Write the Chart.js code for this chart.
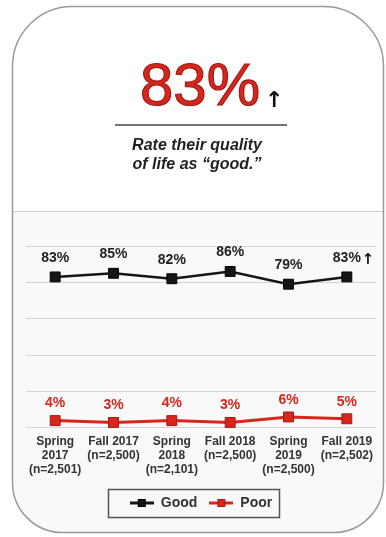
<!DOCTYPE html>
<html>
<head>
<meta charset="utf-8">
<script src="https://cdn.jsdelivr.net/npm/chart.js@4.4.0/dist/chart.umd.min.js"></script>
<style>
  html, body { margin: 0; padding: 0; background: #fff; }
  #wrap { width: 386px; height: 537px; position: relative; }
</style>
</head>
<body>
<div id="wrap"><canvas id="chart"></canvas></div>
<script>
// ── Data ─────────────────────────────────────────────────────────────────────
const waves = [
  ['Spring', '2017', '(n=2,501)'],
  ['Fall 2017', '(n=2,500)'],
  ['Spring', '2018', '(n=2,101)'],
  ['Fall 2018', '(n=2,500)'],
  ['Spring', '2019', '(n=2,500)'],
  ['Fall 2019', '(n=2,502)'],
];
const good = [83, 85, 82, 86, 79, 83];
const poor = [4, 3, 4, 3, 6, 5];
const seriesNames = ['Good', 'Poor'];
const yMin = 0, yMax = 100, yStep = 20;
const headline = '83%';
const subtitle = ['Rate their quality', 'of life as \u201cgood.\u201d'];

// ── Style ────────────────────────────────────────────────────────────────────
const FONT = '"Liberation Sans", Arial, sans-serif';
const BLACK = '#151515';
const RED = '#d8261c';
const RED_DARK = '#9e1a14';

// legend marker: short line with a square on it
function legendMark(color, edge) {
  const c = document.createElement('canvas');
  c.width = 24; c.height = 12;
  const g = c.getContext('2d');
  g.strokeStyle = color; g.lineWidth = 3;
  g.beginPath(); g.moveTo(0, 6); g.lineTo(24, 6); g.stroke();
  g.fillStyle = color; g.fillRect(8, 2, 8, 8);
  g.strokeStyle = edge; g.lineWidth = 1; g.strokeRect(8.5, 2.5, 7, 7);
  return c;
}
const marks = [legendMark(BLACK, '#000'), legendMark(RED, RED_DARK)];

// ── Card, headline, subtitle ─────────────────────────────────────────────────
function cardPath(ctx) {
  const x = 12.5, y = 6.5, w = 371, h = 526;
  ctx.beginPath();
  ctx.roundRect(x, y, w, h, [60, 60, 50, 50]);
}

function arrow(ctx, x, y, size) {
  ctx.font = 'bold ' + size + 'px "DejaVu Sans", sans-serif';
  ctx.fillStyle = '#111';
  ctx.fillText('\u2191', x, y);
}

const cardPlugin = {
  id: 'card',
  beforeDraw(chart) {
    const ctx = chart.ctx;
    ctx.save();
    ctx.fillStyle = '#fff';
    ctx.fillRect(0, 0, chart.width, chart.height);

    // light panel behind the plot
    cardPath(ctx);
    ctx.save();
    ctx.clip();
    ctx.fillStyle = '#f9f9f9';
    ctx.fillRect(0, 211, chart.width, chart.height);
    ctx.restore();

    ctx.strokeStyle = '#cfcfcf';
    ctx.lineWidth = 1;
    ctx.beginPath(); ctx.moveTo(13, 211.5); ctx.lineTo(383, 211.5); ctx.stroke();

    cardPath(ctx);
    ctx.strokeStyle = '#9a9a9a';
    ctx.lineWidth = 1.5;
    ctx.stroke();

    // headline
    ctx.font = '60px ' + FONT;
    ctx.textAlign = 'left';
    ctx.textBaseline = 'alphabetic';
    ctx.fillStyle = RED;
    ctx.fillText(headline, 140, 105);
    ctx.strokeStyle = RED_DARK;
    ctx.lineWidth = 1.2;
    ctx.strokeText(headline, 140, 105);
    const hw = ctx.measureText(headline).width;
    arrow(ctx, 140 + hw + 5, 107, 22);

    // rule
    ctx.strokeStyle = '#444';
    ctx.lineWidth = 1.5;
    ctx.beginPath(); ctx.moveTo(115, 125); ctx.lineTo(287, 125); ctx.stroke();

    // subtitle
    ctx.font = 'italic bold 16px ' + FONT;
    ctx.fillStyle = '#222';
    ctx.textAlign = 'center';
    ctx.fillText(subtitle[0], 197, 150);
    ctx.fillText(subtitle[1], 197, 169);
    ctx.restore();
  },
  afterDraw(chart) {
    // frame around the legend
    const hb = chart.legend.legendHitBoxes;
    if (!hb || !hb.length) return;
    const cy = hb[0].top + hb[0].height / 2;
    const ctx = chart.ctx;
    ctx.save();
    ctx.strokeStyle = '#555';
    ctx.lineWidth = 1.5;
    ctx.strokeRect(108.5, Math.round(cy - 14) + 0.5, 171, 28);
    ctx.restore();
  }
};

// ── Value labels above points ────────────────────────────────────────────────
const labelPlugin = {
  id: 'valueLabels',
  afterDatasetsDraw(chart) {
    const ctx = chart.ctx;
    ctx.save();
    ctx.textAlign = 'center';
    ctx.textBaseline = 'middle';
    chart.data.datasets.forEach((ds, di) => {
      const meta = chart.getDatasetMeta(di);
      meta.data.forEach((pt, i) => {
        const txt = ds.data[i] + '%';
        const y = pt.y - (di === 0 ? 19 : 17);
        ctx.font = 'bold 14px ' + FONT;
        ctx.fillStyle = di === 0 ? '#222' : RED;
        ctx.fillText(txt, pt.x, y);
        if (di === 0 && i === ds.data.length - 1) {
          const w = ctx.measureText(txt).width;
          ctx.save();
          ctx.textAlign = 'left';
          arrow(ctx, pt.x + w / 2 + 1, y + 2, 15);
          ctx.restore();
        }
      });
    });
    ctx.restore();
  }
};

// ── Chart ────────────────────────────────────────────────────────────────────
new Chart(document.getElementById('chart'), {
  type: 'line',
  data: {
    labels: waves,
    datasets: [
      {
        label: seriesNames[0],
        data: good,
        borderColor: BLACK,
        backgroundColor: BLACK,
        borderWidth: 2.5,
        pointStyle: 'rect',
        pointRadius: 7,
        pointBorderColor: '#000',
        pointBorderWidth: 1,
        tension: 0,
      },
      {
        label: seriesNames[1],
        data: poor,
        borderColor: RED,
        backgroundColor: RED,
        borderWidth: 3,
        pointStyle: 'rect',
        pointRadius: 7,
        pointBorderColor: RED_DARK,
        pointBorderWidth: 1,
        tension: 0,
      }
    ]
  },
  options: {
    responsive: true,
    maintainAspectRatio: false,
    animation: false,
    layout: { padding: { top: 246, left: 26, right: 10, bottom: 17 } },
    scales: {
      x: {
        offset: true,
        grid: { display: false, drawTicks: false },
        border: { display: false },
        ticks: {
          color: '#333',
          font: { family: FONT, size: 12, weight: 'bold', lineHeight: 1.17 },
          padding: 7,
          maxRotation: 0,
          autoSkip: false,
        }
      },
      y: {
        min: yMin,
        max: yMax,
        grid: { color: '#d2d2d2', lineWidth: 1, drawTicks: false },
        border: { display: false },
        ticks: { display: false, stepSize: yStep },
      }
    },
    plugins: {
      legend: {
        position: 'bottom',
        labels: {
          usePointStyle: true,
          pointStyleWidth: 24,
          color: '#333',
          font: { family: FONT, size: 14, weight: 'bold' },
          padding: 12,
          generateLabels: chart => Chart.defaults.plugins.legend.labels.generateLabels(chart)
            .map((it, i) => ({ ...it, pointStyle: marks[i] })),
        },
        onClick: null,
      },
      tooltip: { enabled: false },
    }
  },
  plugins: [cardPlugin, labelPlugin]
});
</script>
</body>
</html>
